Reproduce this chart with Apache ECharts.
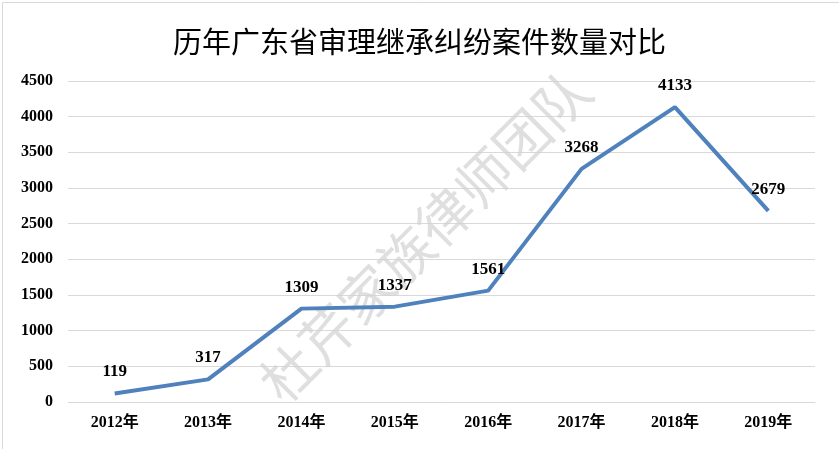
<!DOCTYPE html>
<html><head><meta charset="utf-8">
<script src="https://cdn.jsdelivr.net/npm/echarts@6/dist/echarts.min.js"></script>
<style>html,body{margin:0;padding:0;background:#fff}#c{width:839px;height:449px}</style>
</head><body><div id="c"></div>
<script>
const categories = ['2012年','2013年','2014年','2015年','2016年','2017年','2018年','2019年'];
const values = [119, 317, 1309, 1337, 1561, 3268, 4133, 2679];
const yTicks = {min: 0, max: 4500, interval: 500};
const title = '历年广东省审理继承纠纷案件数量对比';
const watermark = '杜芹家族律师团队';

const chart = echarts.init(document.getElementById('c'));
chart.setOption({
  animation: false,
  backgroundColor: '#fff',
  title: {text: title, left: 'center', top: 22,
    textStyle: {fontFamily: '"Noto Sans CJK SC"', fontWeight: 'normal', fontSize: 29, color: '#000'}},
  grid: {left: 68, right: 24, top: 81, bottom: 47},
  xAxis: {type: 'category', data: categories, boundaryGap: true,
    axisLine: {lineStyle: {color: '#d9d9d9', width: 1}},
    axisTick: {show: false},
    axisLabel: {color: '#000', fontFamily: '"Liberation Serif","Noto Sans CJK SC"', fontWeight: 'bold', fontSize: 16, margin: 13}},
  yAxis: {type: 'value', min: yTicks.min, max: yTicks.max, interval: yTicks.interval,
    axisLine: {show: false}, axisTick: {show: false},
    splitLine: {lineStyle: {color: '#d9d9d9', width: 1}},
    axisLabel: {color: '#000', fontFamily: '"Liberation Serif"', fontWeight: 'bold', fontSize: 16, margin: 15,
      formatter: v => String(v)}},
  series: [{type: 'line', data: values, symbol: 'circle', symbolSize: 0, showSymbol: true,
    itemStyle: {color: '#4f81bd'},
    lineStyle: {color: '#4f81bd', width: 4},
    label: {show: true, position: 'top', distance: 13, color: '#000',
      fontFamily: '"Liberation Serif"', fontWeight: 'bold', fontSize: 17}}],
  graphic: [
    {type: 'rect', left: 0, top: 0, z: 100, silent: true,
      shape: {x: 0.5, y: 0.5, width: 838, height: 448},
      style: {fill: 'none', stroke: '#d9d9d9', lineWidth: 1}},
    {type: 'text', x: 425, y: 236, rotation: Math.PI / 4, z: 1, silent: true,
      style: {text: watermark, fill: 'rgba(210,210,210,0.7)', font: '55px "Noto Sans CJK SC"',
        align: 'center', verticalAlign: 'middle'}}
  ]
});
</script></body></html>
